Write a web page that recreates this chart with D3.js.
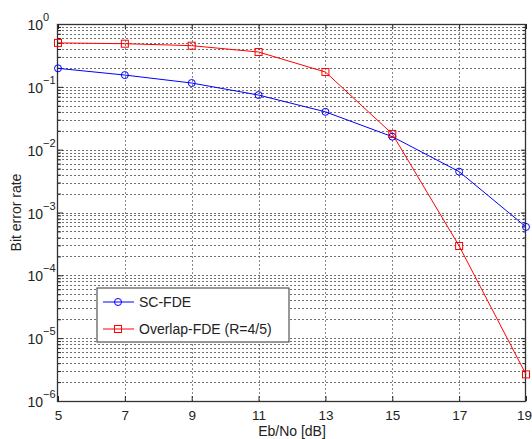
<!DOCTYPE html>
<html>
<head>
<meta charset="utf-8">
<script src="https://cdn.jsdelivr.net/npm/d3@7"></script>
<style>
  body { margin: 0; background: #fff; }
  svg { display: block; font-family: "Liberation Sans", Arial, sans-serif; }
</style>
</head>
<body>
<svg id="chart" width="532" height="439"></svg>
<script>
// Eb/No points (dB)
const ebno = [5, 7, 9, 11, 13, 15, 17, 19];
// BER
const berScFde = [0.197, 0.154, 0.115, 0.074, 0.040, 0.0161, 0.00447, 0.00059];
const berOverlap = [0.50, 0.486, 0.452, 0.358, 0.172, 0.0178, 0.000293, 0.00000265];
const seriesNames = ['SC-FDE', 'Overlap-FDE (R=4/5)'];
const xTicks = [5, 7, 9, 11, 13, 15, 17, 19];
const yExponents = [0, -1, -2, -3, -4, -5, -6];

const width = 532, height = 439;
const margin = { top: 24, right: 6, bottom: 38, left: 58 };

const svg = d3.select('#chart');

const x = d3.scaleLinear()
  .domain([5, 19])
  .range([margin.left, width - margin.right]);

const y = d3.scaleLog()
  .domain([1e-6, 1])
  .range([height - margin.bottom, margin.top]);

// minor values 2..9 per decade
const minorVals = [];
yExponents.slice(1).forEach(e => {
  for (let k = 2; k <= 9; k++) minorVals.push(k * Math.pow(10, e));
});
const majorVals = yExponents.map(e => Math.pow(10, e));

const px = v => Math.round(v) + 0.5;

// grid
const grid = svg.append('g').attr('class', 'grid');
grid.selectAll('line.hx')
  .data(majorVals.concat(minorVals).filter(v => v < 1 && v > 1e-6))
  .enter().append('line')
    .attr('x1', margin.left).attr('x2', width - margin.right)
    .attr('y1', d => px(y(d))).attr('y2', d => px(y(d)))
    .attr('stroke', '#333').attr('stroke-opacity', 0.7)
    .attr('stroke-dasharray', '2,2');
grid.selectAll('line.vx')
  .data(xTicks.slice(1, -1))
  .enter().append('line')
    .attr('y1', margin.top).attr('y2', height - margin.bottom)
    .attr('x1', d => px(x(d))).attr('x2', d => px(x(d)))
    .attr('stroke', '#555').attr('stroke-opacity', 0.7)
    .attr('stroke-dasharray', '2,2');

// axes (ticks inward, MATLAB style)
const xAxis = d3.axisBottom(x).tickValues(xTicks).tickSizeInner(-5).tickSizeOuter(0).tickPadding(9);
const gx = svg.append('g')
  .attr('transform', `translate(0,${height - margin.bottom})`)
  .call(xAxis);
gx.select('.domain').remove();
gx.selectAll('text').attr('font-size', 13.5).attr('fill', '#222')
  .attr('font-family', '"Liberation Sans", Arial, sans-serif');
gx.selectAll('.tick').filter(d => d === 19).select('text').attr('dx', -2);

const gxTop = svg.append('g')
  .attr('transform', `translate(0,${margin.top})`)
  .call(d3.axisTop(x).tickValues(xTicks).tickSizeInner(-5).tickSizeOuter(0).tickFormat(''));
gxTop.select('.domain').remove();

const gy = svg.append('g')
  .attr('transform', `translate(${margin.left},0)`)
  .call(d3.axisLeft(y).tickValues(majorVals).tickSizeInner(-5).tickSizeOuter(0).tickFormat(''));
gy.select('.domain').remove();
const gyMinor = svg.append('g')
  .attr('transform', `translate(${margin.left},0)`)
  .call(d3.axisLeft(y).tickValues(minorVals).tickSizeInner(-3).tickSizeOuter(0).tickFormat(''));
gyMinor.select('.domain').remove();
const gyR = svg.append('g')
  .attr('transform', `translate(${width - margin.right},0)`)
  .call(d3.axisRight(y).tickValues(majorVals).tickSizeInner(-5).tickSizeOuter(0).tickFormat(''));
gyR.select('.domain').remove();
const gyRMinor = svg.append('g')
  .attr('transform', `translate(${width - margin.right},0)`)
  .call(d3.axisRight(y).tickValues(minorVals).tickSizeInner(-3).tickSizeOuter(0).tickFormat(''));
gyRMinor.select('.domain').remove();
svg.selectAll('.tick line').attr('stroke', '#222');

// y tick labels 10^n
const ylab = svg.append('g').attr('font-size', 14).attr('fill', '#222');
yExponents.forEach(e => {
  ylab.append('text')
    .attr('x', margin.left - 15)
    .attr('y', y(Math.pow(10, e)) + 6)
    .attr('text-anchor', 'end')
    .text('10');
  ylab.append('text')
    .attr('x', margin.left - 15)
    .attr('y', y(Math.pow(10, e)) - 3)
    .attr('font-size', 11)
    .text(e === 0 ? '0' : '\u2212' + (-e));
});

// frame
svg.append('rect')
  .attr('x', px(margin.left) - 1).attr('y', px(margin.top))
  .attr('width', Math.round(width - margin.right - margin.left))
  .attr('height', Math.round(height - margin.bottom - margin.top))
  .attr('fill', 'none').attr('stroke', '#333').attr('stroke-width', 1.3);

// series
const line = d3.line().x(d => x(d[0])).y(d => y(d[1]));
const sc = ebno.map((e, i) => [e, berScFde[i]]);
const ov = ebno.map((e, i) => [e, berOverlap[i]]);

svg.append('path').datum(sc).attr('d', line)
  .attr('fill', 'none').attr('stroke', '#0000ff').attr('stroke-width', 1);
svg.append('path').datum(ov).attr('d', line)
  .attr('fill', 'none').attr('stroke', '#ff0000').attr('stroke-width', 1);

svg.selectAll('circle.sc').data(sc).enter().append('circle')
  .attr('cx', d => x(d[0])).attr('cy', d => y(d[1])).attr('r', 3.5)
  .attr('fill', 'none').attr('stroke', '#0000ff').attr('stroke-width', 1);
svg.selectAll('rect.ov').data(ov).enter().append('rect')
  .attr('x', d => x(d[0]) - 3.5).attr('y', d => y(d[1]) - 3.5)
  .attr('width', 7).attr('height', 7)
  .attr('fill', 'none').attr('stroke', '#ff0000').attr('stroke-width', 1);

// axis titles
svg.append('text')
  .attr('x', (margin.left + width - margin.right) / 2)
  .attr('y', 436)
  .attr('text-anchor', 'middle').attr('font-size', 14).attr('fill', '#222')
  .text('Eb/No [dB]');
svg.append('text')
  .attr('transform', `translate(21,${(margin.top + height - margin.bottom) / 2}) rotate(-90)`)
  .attr('text-anchor', 'middle').attr('font-size', 14).attr('fill', '#222')
  .text('Bit error rate');

// legend
const lg = svg.append('g').attr('transform', 'translate(97,288)');
lg.append('rect').attr('width', 192).attr('height', 54)
  .attr('fill', '#fff').attr('stroke', '#333').attr('stroke-width', 1);
const colors = ['#0000ff', '#ff0000'];
seriesNames.forEach((name, i) => {
  const cy = 14 + i * 27;
  lg.append('line').attr('x1', 6).attr('x2', 37).attr('y1', cy).attr('y2', cy)
    .attr('stroke', colors[i]).attr('stroke-width', 1);
  if (i === 0) {
    lg.append('circle').attr('cx', 21).attr('cy', cy).attr('r', 3.5)
      .attr('fill', 'none').attr('stroke', colors[i]);
  } else {
    lg.append('rect').attr('x', 17.5).attr('y', cy - 3.5).attr('width', 7).attr('height', 7)
      .attr('fill', 'none').attr('stroke', colors[i]);
  }
  lg.append('text').attr('x', 42).attr('y', cy + 5)
    .attr('font-size', 14).attr('fill', '#222').text(name);
});
</script>
</body>
</html>
